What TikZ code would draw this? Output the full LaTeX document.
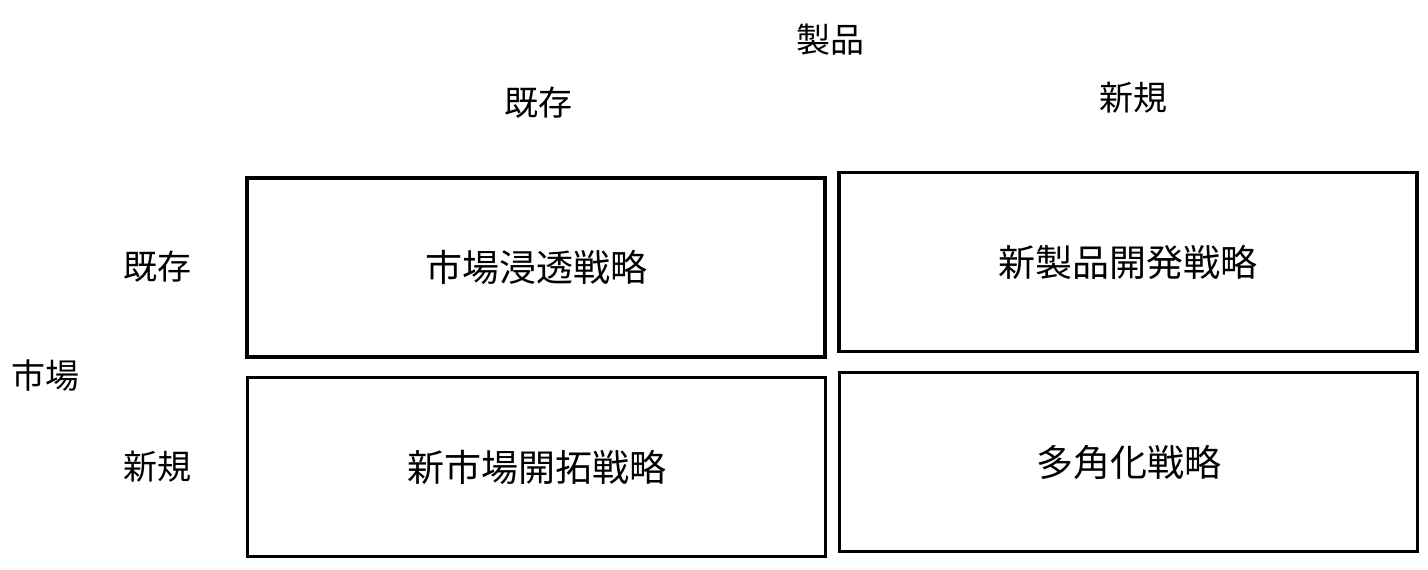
\documentclass[tikz,border=0pt]{standalone}
\usepackage{fontspec}
\setmainfont{Noto Sans CJK JP}
\begin{document}
\begin{tikzpicture}[x=0.5pt,y=-0.5pt,
  cell/.style={draw=black,line width=1.7pt,minimum width=289pt,minimum height=89.5pt,inner sep=0pt,font=\fontsize{18.5pt}{20pt}\selectfont},
  lbl/.style={inner sep=0pt,font=\fontsize{17pt}{20pt}\selectfont}]
\useasboundingbox[fill=white] (0,0) rectangle (1428,569);
\node[cell] (c11) at (536,267.5) {市場浸透戦略};
\node[cell] (c12) at (1128,262) {新製品開発戦略};
\node[cell] (c21) at (536.5,467) {新市場開拓戦略};
\node[cell] (c22) at (1128.5,462) {多角化戦略};
\node[lbl] (prod) at (830,40) {製品};
\node[lbl] (pold) at (538,103) {既存};
\node[lbl] (pnew) at (1133,98) {新規};
\node[lbl] (market) at (45,376) {市場};
\node[lbl] (mold) at (157,267) {既存};
\node[lbl] (mnew) at (157,467) {新規};
\end{tikzpicture}
\end{document}
